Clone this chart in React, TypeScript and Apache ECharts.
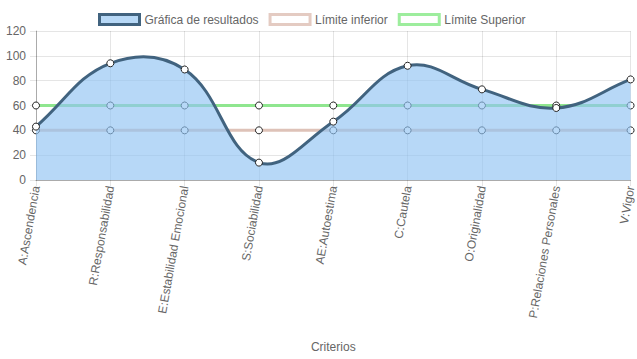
import React, { useEffect, useRef } from "react";
import * as echarts from "echarts";

const categories = [
  "A:Ascendencia",
  "R:Responsabilidad",
  "E:Estabilidad Emocional",
  "S:Sociabilidad",
  "AE:Autoestima",
  "C:Cautela",
  "O:Originalidad",
  "P:Relaciones Personales",
  "V:Vigor",
];
const resultados = [43, 94, 89, 14, 47, 92, 73, 58, 81];
const limiteInferior = [40, 40, 40, 40, 40, 40, 40, 40, 40];
const limiteSuperior = [60, 60, 60, 60, 60, 60, 60, 60, 60];
const yTicks = { min: 0, max: 120, interval: 20 };

const FONT = "Liberation Sans, Arial, Helvetica, sans-serif";
const TXT = "#666";
const TENSION = 0.4;

export default function App() {
  const ref = useRef<HTMLDivElement>(null);
  useEffect(() => {
    document.body.style.margin = "0";
    const chart = echarts.init(ref.current!, null, { renderer: "svg" });
    const pointStyle = { color: "#fff", borderColor: "#222", borderWidth: 1 };

    const renderCurve = (params: any, api: any) => {
      if (params.dataIndex !== 0) return { type: "group", children: [] };
      const cs = params.coordSys;
      const pts = resultados.map((v, i) => api.coord([i, v]));
      const n = pts.length;
      const cpPrev: number[][] = [];
      const cpNext: number[][] = [];
      const clamp = (p: number[]) => [
        Math.min(Math.max(p[0], cs.x), cs.x + cs.width),
        Math.min(Math.max(p[1], cs.y), cs.y + cs.height),
      ];
      for (let i = 0; i < n; i++) {
        const prev = pts[Math.max(i - 1, 0)];
        const cur = pts[i];
        const next = pts[Math.min(i + 1, n - 1)];
        const d01 = Math.hypot(cur[0] - prev[0], cur[1] - prev[1]);
        const d12 = Math.hypot(next[0] - cur[0], next[1] - cur[1]);
        let s01 = d01 / (d01 + d12);
        let s12 = d12 / (d01 + d12);
        if (!isFinite(s01)) s01 = 0;
        if (!isFinite(s12)) s12 = 0;
        const fa = TENSION * s01;
        const fb = TENSION * s12;
        cpPrev.push(clamp([cur[0] - fa * (next[0] - prev[0]), cur[1] - fa * (next[1] - prev[1])]));
        cpNext.push(clamp([cur[0] + fb * (next[0] - prev[0]), cur[1] + fb * (next[1] - prev[1])]));
      }
      let d = `M${pts[0][0]},${pts[0][1]}`;
      for (let i = 0; i < n - 1; i++) {
        d += ` C${cpNext[i][0]},${cpNext[i][1]} ${cpPrev[i + 1][0]},${cpPrev[i + 1][1]} ${pts[i + 1][0]},${pts[i + 1][1]}`;
      }
      const base = api.coord([0, yTicks.min])[1];
      const area = d + ` L${pts[n - 1][0]},${base} L${pts[0][0]},${base} Z`;
      return {
        type: "group",
        children: [
          {
            type: "path",
            shape: { pathData: area },
            style: { fill: "rgba(144,195,242,0.65)", stroke: "none" },
          },
          {
            type: "path",
            shape: { pathData: d },
            style: { fill: "none", stroke: "#41637f", lineWidth: 3 },
          },
        ],
      };
    };

    chart.setOption({
      animation: false,
      textStyle: { fontFamily: FONT },
      legend: {
        top: 8,
        left: 93,
        icon: "rect",
        itemWidth: 40,
        itemHeight: 10,
        itemGap: 10,
        textStyle: { color: TXT, fontSize: 12, fontFamily: FONT },
        data: [
          {
            name: "Gráfica de resultados",
            itemStyle: { color: "rgb(183,216,246)", borderColor: "#41637f", borderWidth: 3 },
          },
          {
            name: "Límite inferior",
            itemStyle: { color: "#fff", borderColor: "#e4cbc2", borderWidth: 3 },
          },
          {
            name: "Límite Superior",
            itemStyle: { color: "#fff", borderColor: "#9ded9d", borderWidth: 3 },
          },
        ],
      },
      grid: { left: 36, right: 4, top: 31, bottom: 179 },
      xAxis: {
        type: "category",
        data: categories,
        boundaryGap: false,
        name: "Criterios",
        nameLocation: "middle",
        nameGap: 161,
        nameTextStyle: { color: TXT, fontSize: 12, fontFamily: FONT },
        axisLine: { show: true, lineStyle: { color: "rgba(0,0,0,0.25)", width: 1 } },
        axisTick: { show: true, length: 6, lineStyle: { color: "rgba(0,0,0,0.1)" } },
        axisLabel: {
          rotate: 80,
          color: TXT,
          fontSize: 12,
          fontFamily: FONT,
          margin: 6,
          interval: 0,
        },
        splitLine: { show: true, lineStyle: { color: "rgba(0,0,0,0.1)" } },
      },
      yAxis: {
        type: "value",
        min: yTicks.min,
        max: yTicks.max,
        interval: yTicks.interval,
        axisLine: { show: true, lineStyle: { color: "rgba(0,0,0,0.25)" } },
        axisTick: { show: true, length: 6, lineStyle: { color: "rgba(0,0,0,0.1)" } },
        axisLabel: { color: TXT, fontSize: 12, fontFamily: FONT, margin: 10 },
        splitLine: { show: true, lineStyle: { color: "rgba(0,0,0,0.1)" } },
      },
      series: [
        {
          name: "Límite Superior",
          type: "line",
          data: limiteSuperior,
          symbol: "circle",
          symbolSize: 7,
          itemStyle: pointStyle,
          lineStyle: { color: "#8fe68f", width: 3 },
          z: 2,
        },
        {
          name: "Límite inferior",
          type: "line",
          data: limiteInferior,
          symbol: "circle",
          symbolSize: 7,
          itemStyle: pointStyle,
          lineStyle: { color: "#dec2b8", width: 3 },
          z: 2,
        },
        {
          name: "Gráfica de resultados",
          type: "custom",
          data: resultados.map((v, i) => [i, v]),
          renderItem: renderCurve,
          encode: { x: 0, y: 1 },
          silent: true,
          z: 5,
        },
        {
          name: "Gráfica de resultados",
          type: "line",
          data: resultados,
          symbol: "circle",
          symbolSize: 7,
          itemStyle: pointStyle,
          lineStyle: { width: 0, opacity: 0 },
          z: 6,
        },
      ],
    });
    return () => chart.dispose();
  }, []);
  return <div ref={ref} style={{ width: 637, height: 359 }} />;
}
